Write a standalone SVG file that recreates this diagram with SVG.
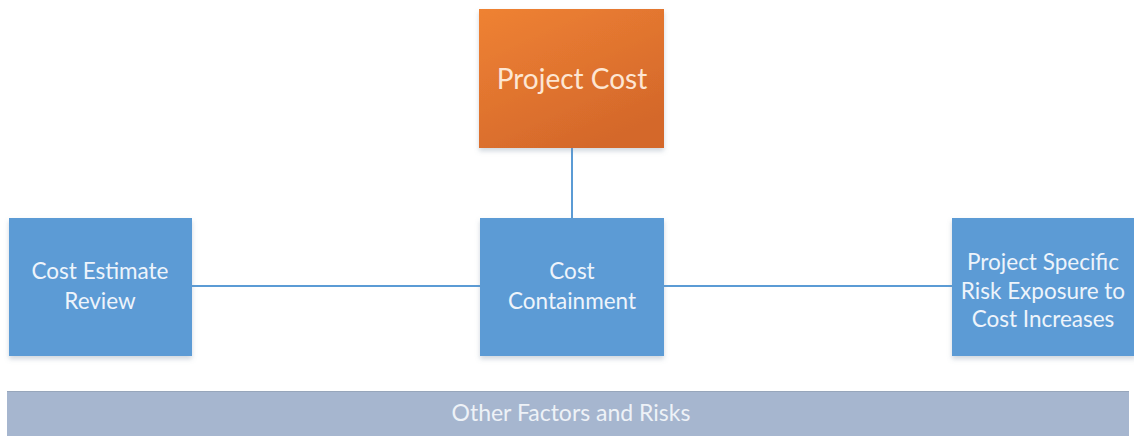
<svg xmlns="http://www.w3.org/2000/svg" width="1134" height="436" viewBox="0 0 1134 436">
  <defs>
    <linearGradient id="orange" x1="0" y1="0" x2="0.6" y2="1">
      <stop offset="0" stop-color="#ef8233"/>
      <stop offset="1" stop-color="#d4682b"/>
    </linearGradient>
    <filter id="shadow" x="-10%" y="-10%" width="120%" height="130%">
      <feDropShadow dx="0" dy="3" stdDeviation="2.5" flood-color="#7a8ca0" flood-opacity="0.35"/>
    </filter>
    <style>
      .blue { fill: #5b9bd5; filter: url(#shadow); }
      .lbl { font-family: Lato, "Open Sans", "Liberation Sans", sans-serif; font-size: 22.5px; fill: #eef4fb; text-anchor: middle; }
      .conn { stroke: #5b9bd5; stroke-width: 2; fill: none; }
    </style>
  </defs>
  <rect width="1134" height="436" fill="#ffffff"/>

  <g id="connectors">
    <line class="conn" x1="572" y1="148" x2="572" y2="218"/>
    <line class="conn" x1="192" y1="286" x2="480" y2="286"/>
    <line class="conn" x1="664" y1="286" x2="952" y2="286"/>
  </g>

  <g id="project-cost">
    <rect x="479" y="9" width="185" height="139" fill="url(#orange)" filter="url(#shadow)"/>
    <text class="lbl" x="572" y="89" style="font-size:28px; fill:#fde6d3">Project Cost</text>
  </g>

  <g id="cost-estimate-review">
    <rect class="blue" x="9" y="218" width="183" height="138"/>
    <text class="lbl" x="100" y="279">Cost Estimate</text>
    <text class="lbl" x="100" y="309">Review</text>
  </g>

  <g id="cost-containment">
    <rect class="blue" x="480" y="218" width="184" height="138"/>
    <text class="lbl" x="572" y="279">Cost</text>
    <text class="lbl" x="572" y="309">Containment</text>
  </g>

  <g id="risk-exposure">
    <rect class="blue" x="952" y="218" width="184" height="138"/>
    <text class="lbl" x="1043" y="270">Project Specific</text>
    <text class="lbl" x="1043" y="299">Risk Exposure to</text>
    <text class="lbl" x="1043" y="327">Cost Increases</text>
  </g>

  <g id="other-factors">
    <rect x="7" y="391" width="1122" height="45" fill="#a6b6cf"/>
    <line x1="7" y1="391.5" x2="1129" y2="391.5" stroke="#97a6bb" stroke-width="1"/>
    <text class="lbl" x="571" y="421" style="font-size:23px; fill:#eef2f7">Other Factors and Risks</text>
  </g>
</svg>
